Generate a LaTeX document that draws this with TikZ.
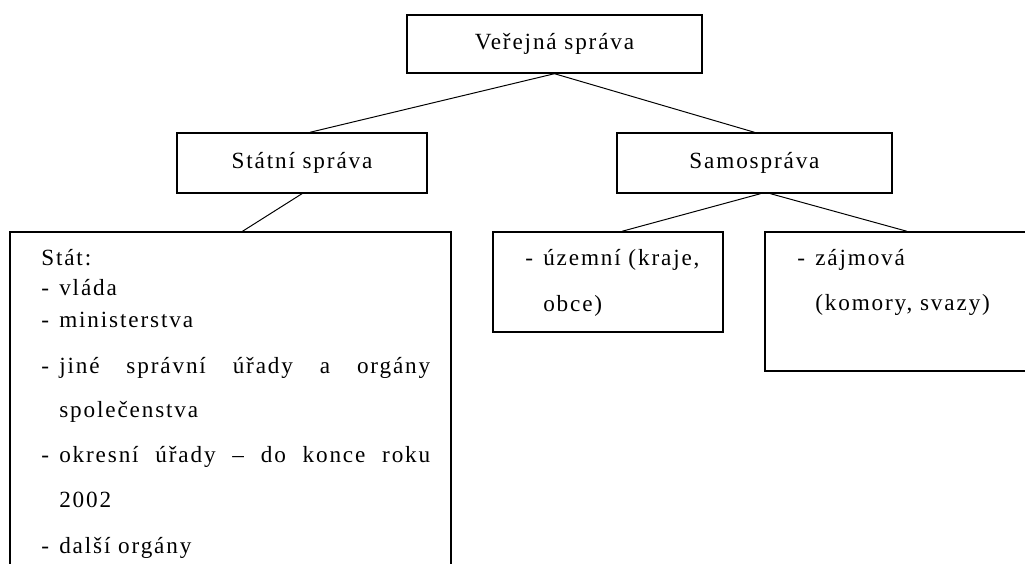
\documentclass[tikz,border=0pt]{standalone}
\usepackage{fontspec}
\setmainfont{Liberation Serif}[LetterSpace=8]
\usepackage{tikz}
\usetikzlibrary{positioning,calc}

\newcommand{\pomlcka}{\makebox[0.45cm][l]{-}}

\begin{document}
\begin{tikzpicture}[
    every node/.style={
        font=\fontsize{16.5pt}{19pt}\selectfont
    },
    box/.style={
        draw,
        line width=1pt,
        inner sep=0pt
    },
    txt/.style={
        anchor=base west,
        inner sep=0pt
    },
    spoj/.style={
        line width=0.7pt
    }
]

\useasboundingbox (0,0) rectangle (25.625,14.075);
\clip (0,0) rectangle (25.625,14.075);

\node[box, minimum width=7.375cm, minimum height=1.45cm] (verejna) at (13.8625,12.975) {Veřejná správa};

\node[box, minimum width=6.25cm, minimum height=1.5cm] (statni) at (7.55,10) {Státní správa};
\node[box, minimum width=6.875cm, minimum height=1.5cm] (samo) at (18.8625,10) {Samospráva};

\node[box, minimum width=11.025cm, minimum height=9.2cm] (stat) at (5.7625,3.675) {};
\node[box, minimum width=5.75cm, minimum height=2.5cm] (uzemni) at (15.2,7.025) {};
\node[box, minimum width=7.1cm, minimum height=3.475cm] (zajmova) at (22.675,6.5375) {};

% text ve velkem ramecku
\node[txt] (t1) at (1.025,7.45) {Stát:};
\node[txt] (t2) at (1.025,6.7) {\pomlcka vláda};
\node[txt] (t3) at (1.025,5.9) {\pomlcka ministerstva};
\node[txt] (t4) at (1.025,4.75) {\makebox[9.725cm][s]{\pomlcka jiné správní úřady a orgány}};
\node[txt] (t5) at (1.475,3.65) {společenstva};
\node[txt] (t6) at (1.025,2.525) {\makebox[9.725cm][s]{\pomlcka okresní úřady – do konce roku}};
\node[txt] (t7) at (1.475,1.4) {2002};
\node[txt] (t8) at (1.025,0.25) {\pomlcka další orgány};

\node[txt] (u1) at (13.125,7.45) {\pomlcka územní (kraje,};
\node[txt] (u2) at (13.575,6.3) {obce)};

\node[txt] (z1) at (19.925,7.45) {\pomlcka zájmová};
\node[txt] (z2) at (20.375,6.325) {(komory, svazy)};

\draw[spoj] (verejna.south)--([xshift=0.2cm]statni.north);
\draw[spoj] (verejna.south)--(samo.north);
\draw[spoj] (statni.south)--([xshift=0.3cm]stat.north);
\draw[spoj] ([xshift=0.15cm]samo.south)--([xshift=0.35cm]uzemni.north);
\draw[spoj] ([xshift=0.4cm]samo.south)--(zajmova.north);

\end{tikzpicture}
\end{document}
